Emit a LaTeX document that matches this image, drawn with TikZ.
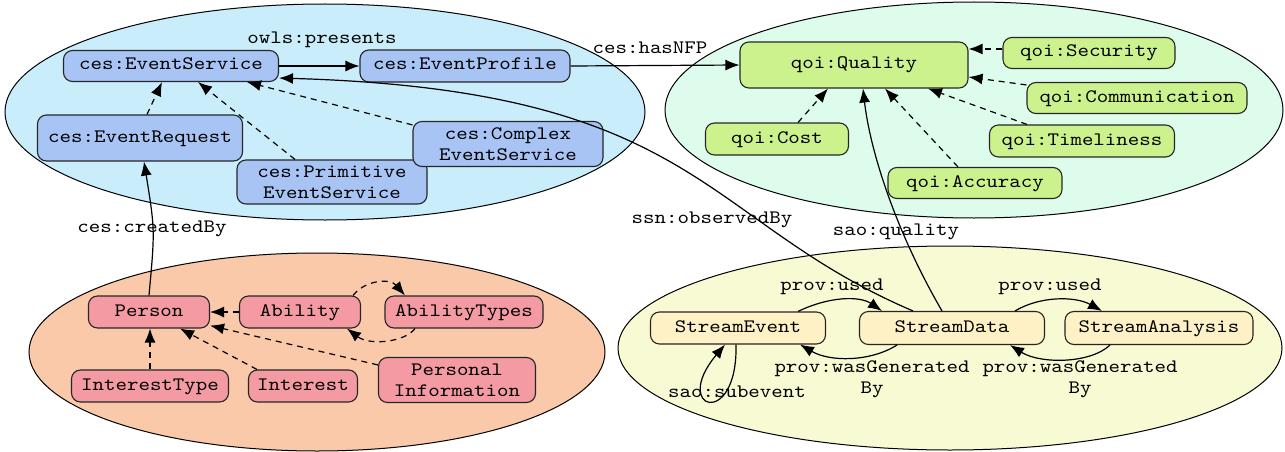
\documentclass[tikz,border=0pt]{standalone}
\usepackage{fontspec}
\newfontfamily\cour{lmmono10-regular.otf}[FakeStretch=1.15]
\usetikzlibrary{arrows.meta}
\definecolor{ellblue}{HTML}{C9EDFB}
\definecolor{boxblue}{HTML}{A8C4F4}
\definecolor{ellgreen}{HTML}{DDFCEC}
\definecolor{boxgreen}{HTML}{CCF28E}
\definecolor{ellorange}{HTML}{F9C9A9}
\definecolor{boxred}{HTML}{F39AA3}
\definecolor{ellyellow}{HTML}{F7FAD3}
\definecolor{boxyellow}{HTML}{FFF1C6}
\tikzset{
  box/.style={draw=black!85, line width=1.1pt, rounded corners=9pt,
    font=\cour\fontsize{19}{21}\selectfont, inner sep=0pt,
    text height=11pt, text depth=3pt},
  boxtwo/.style={draw=black!85, line width=1.1pt, rounded corners=9pt,
    font=\cour\fontsize{19}{21}\selectfont, inner sep=0pt, align=center},
  lbl/.style={font=\cour\fontsize{19}{21}\selectfont, inner sep=0pt,
    text height=11pt, text depth=3pt},
  lbltwo/.style={font=\cour\fontsize{19}{21}\selectfont, inner sep=0pt, align=center},
  conn/.style={line width=1.2pt, -{Latex[length=14pt,width=11pt]}},
  dconn/.style={conn, dash pattern=on 6pt off 5pt},
  grp/.style={draw=black, line width=1pt}
}
\begin{document}
\begin{tikzpicture}[x=1pt,y=-1pt]
\useasboundingbox (0,0) rectangle (1285,452);
\fill[white] (0,0) rectangle (1285,452);
% group ellipses
\draw[grp, fill=ellblue] (325,112) ellipse [x radius=320pt, y radius=108pt];
\draw[grp, fill=ellgreen] (974,110) ellipse [x radius=309pt, y radius=108pt];
\draw[grp, fill=ellorange] (317,352) ellipse [x radius=288pt, y radius=99pt];
\draw[grp, fill=ellyellow] (950,348) ellipse [x radius=332pt, y radius=102pt];

% blue nodes
\node[box, fill=boxblue, minimum width=215pt, minimum height=31pt] (es) at (171,66) {ces:EventService};
\node[box, fill=boxblue, minimum width=210pt, minimum height=32pt] (ep) at (465,66) {ces:EventProfile};
\node[box, fill=boxblue, minimum width=205pt, minimum height=46pt] (er) at (140,138) {ces:EventRequest};
\node[boxtwo, fill=boxblue, minimum width=190pt, minimum height=44pt] (pes) at (332,182) {ces:Primitive\\EventService};
\node[boxtwo, fill=boxblue, minimum width=190pt, minimum height=45pt] (ces) at (508,144) {ces:Complex\\EventService};
% green nodes
\node[box, fill=boxgreen, minimum width=228pt, minimum height=46pt] (q) at (854,65) {qoi:Quality};
\node[box, fill=boxgreen, minimum width=172pt, minimum height=31pt] (sec) at (1089,53) {qoi:Security};
\node[box, fill=boxgreen, minimum width=220pt, minimum height=31pt] (com) at (1137,98) {qoi:Communication};
\node[box, fill=boxgreen, minimum width=185pt, minimum height=32pt] (tim) at (1082,141) {qoi:Timeliness};
\node[box, fill=boxgreen, minimum width=174pt, minimum height=31pt] (acc) at (975,183) {qoi:Accuracy};
\node[box, fill=boxgreen, minimum width=143pt, minimum height=32pt] (cost) at (777,139) {qoi:Cost};
% red nodes
\node[box, fill=boxred, minimum width=121pt, minimum height=32pt] (person) at (149,312) {Person};
\node[box, fill=boxred, minimum width=121pt, minimum height=32pt] (ability) at (300,312) {Ability};
\node[box, fill=boxred, minimum width=158pt, minimum height=32pt] (abt) at (464,312) {AbilityTypes};
\node[box, fill=boxred, minimum width=157pt, minimum height=32pt] (itype) at (150,386) {InterestType};
\node[box, fill=boxred, minimum width=109pt, minimum height=32pt] (interest) at (303,386) {Interest};
\node[boxtwo, fill=boxred, minimum width=157pt, minimum height=45pt] (pinfo) at (457,380) {Personal\\Information};
% yellow nodes
\node[box, fill=boxyellow, minimum width=175pt, minimum height=32pt] (sev) at (738,328) {StreamEvent};
\node[box, fill=boxyellow, minimum width=185pt, minimum height=33pt] (sd) at (952,328) {StreamData};
\node[box, fill=boxyellow, minimum width=188pt, minimum height=33pt] (sa) at (1159,328) {StreamAnalysis};

% labels
\node[lbl] (lpresents) at (322,40) {owls:presents};
\node[lbl] (lhasnfp) at (650,50) {ces:hasNFP};
\node[lbl] (lcreated) at (152,228) {ces:createdBy};
\node[lbl] (lobserved) at (712,219) {ssn:observedBy};
\node[lbl] (lquality) at (896,231) {sao:quality};
\node[lbl] (lused1) at (832,286) {prov:used};
\node[lbl] (lused2) at (1050,286) {prov:used};
\node[lbltwo] (lgen1) at (872,379) {prov:wasGenerated\\By};
\node[lbltwo] (lgen2) at (1080,379) {prov:wasGenerated\\By};
\node[lbl] (lsub) at (737,393) {sao:subevent};

% blue connectors
\draw[conn] (es.east) -- (ep.west);
\draw[conn] (ep.east) -- (q.west);
\draw[dconn] ([xshift=7pt]er.north) -- ([xshift=-9pt]es.south);
\draw[dconn] ([xshift=-37pt]pes.north) -- ([xshift=27pt]es.south);
\draw[dconn] ([yshift=-4pt]ces.north west) -- ([xshift=76pt]es.south);
\draw[conn] (person.north) .. controls (155,230) .. ([xshift=4pt]er.south);
\draw[conn] ([xshift=-39pt]sd.north) .. controls (700,220) and (700,90) .. ([yshift=4pt]es.south east);
% green connectors
\draw[dconn] ([xshift=21pt]cost.north) -- ([xshift=-26pt]q.south);
\draw[dconn] ([xshift=-17pt]acc.north) -- ([xshift=31pt]q.south);
\draw[dconn] ([xshift=-55pt]tim.north) -- ([xshift=74pt]q.south);
\draw[dconn] ([yshift=-3pt]com.north west) -- ([yshift=-12pt]q.east);
\draw[dconn] ([yshift=4pt]sec.west) -- ([yshift=16pt]q.east);
\draw[conn] ([xshift=-10pt]sd.north) .. controls (895,230) and (870,150) .. ([xshift=9pt]q.south);
% red connectors
\draw[dconn] (ability.west) -- (person.east);
\draw[dconn] ([xshift=53pt]ability.north) .. controls (365,280) and (390,278) .. ([xshift=-59pt]abt.north);
\draw[dconn] ([xshift=-49pt]abt.south) .. controls (405,342) and (370,346) .. ([xshift=47pt]ability.south);
\draw[dconn] (itype.north) -- (itype.north |- person.south);
\draw[dconn] ([xshift=-46pt]interest.north) -- ([xshift=31pt]person.south);
\draw[dconn] ([yshift=-8pt]pinfo.north west) -- ([yshift=3pt]person.south east);
% yellow connectors
\draw[conn] ([xshift=60pt]sev.north) .. controls (830,296) and (860,296) .. ([xshift=-70pt]sd.north);
\draw[conn] ([xshift=-55pt]sd.south) .. controls (870,362) and (830,362) .. ([xshift=62pt]sev.south);
\draw[conn] ([xshift=63pt]sd.north) .. controls (1040,296) and (1075,296) .. ([xshift=-57pt]sa.north);
\draw[conn] ([xshift=-49pt]sa.south) .. controls (1090,364) and (1040,364) .. ([xshift=58pt]sd.south);
\draw[conn] ([xshift=-2pt]sev.south) .. controls (738,430) and (670,410) .. ([xshift=-13pt]sev.south);
\end{tikzpicture}
\end{document}
